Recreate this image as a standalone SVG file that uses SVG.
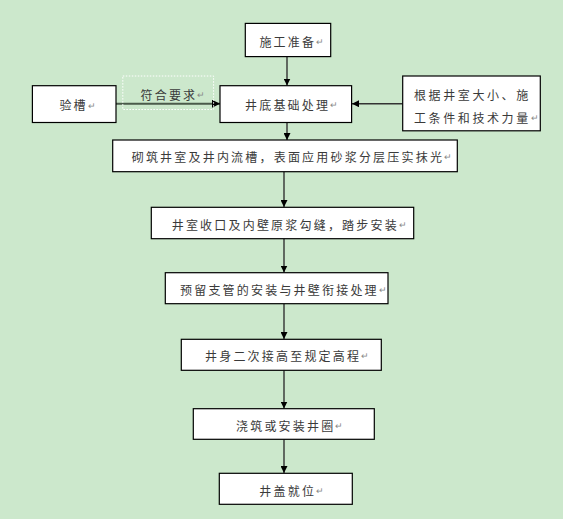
<svg xmlns="http://www.w3.org/2000/svg" width="563" height="519" viewBox="0 0 563 519">
<defs>
<style>
.box{fill:#fff;stroke:#000;stroke-width:1.2}
.t{font-family:"Noto Sans CJK SC","Noto Sans CJK JP",sans-serif;font-size:12px;fill:#3a3a3a;letter-spacing:2.2px;dominant-baseline:central}
.r{font-size:9px;fill:#888;letter-spacing:0}
.ln{stroke:#333;stroke-width:1.4;fill:none}
</style>
<marker id="ah" viewBox="0 0 10 10" refX="10" refY="5" markerWidth="7" markerHeight="7" markerUnits="userSpaceOnUse" orient="auto"><path d="M0,0L10,5L0,10z" fill="#000"/></marker>
<marker id="ah2" viewBox="0 0 10 10" refX="10" refY="5" markerWidth="4" markerHeight="4" markerUnits="strokeWidth" orient="auto"><path d="M0,0L10,5L0,10z" fill="#000"/></marker>
</defs>
<rect width="563" height="519" fill="#cce8cc"/>
<g id="connectors">
<line class="ln" x1="287" y1="57" x2="287" y2="85.5" marker-end="url(#ah)"/>
<line x1="116" y1="103.7" x2="220" y2="103.7" stroke="#4a5a4a" stroke-width="2" marker-end="url(#ah2)"/>
<line class="ln" x1="402.7" y1="103.7" x2="352" y2="103.7" marker-end="url(#ah)"/>
<line class="ln" x1="287" y1="122.5" x2="287" y2="140" marker-end="url(#ah)"/>
<line class="ln" x1="284" y1="171.7" x2="284" y2="207" marker-end="url(#ah)"/>
<line class="ln" x1="284" y1="238.7" x2="284" y2="272.5" marker-end="url(#ah)"/>
<line class="ln" x1="284" y1="303.7" x2="284" y2="339" marker-end="url(#ah)"/>
<line class="ln" x1="284" y1="370.3" x2="284" y2="408.5" marker-end="url(#ah)"/>
<line class="ln" x1="284" y1="439.3" x2="284" y2="473" marker-end="url(#ah)"/>
</g>
<g id="label-fuhe">
<rect x="122.8" y="76" width="90.8" height="33.5" fill="none" stroke="#fff" stroke-width="1" stroke-dasharray="1.5,1.5"/>
<text class="t" x="140.5" y="94">符合要求<tspan class="r">↵</tspan></text>
</g>
<g id="n1"><rect class="box" x="245.3" y="23.4" width="85.4" height="33.2"/><text class="t" x="259.4" y="41.4">施工准备<tspan class="r">↵</tspan></text></g>
<g id="n2"><rect class="box" x="32.4" y="85.7" width="83.6" height="36.8"/><text class="t" x="59.4" y="104.5">验槽<tspan class="r">↵</tspan></text></g>
<g id="n3"><rect class="box" x="220" y="85.7" width="131.6" height="36.8"/><text class="t" x="245" y="104">井底基础处理<tspan class="r">↵</tspan></text></g>
<g id="n4"><rect class="box" x="402.7" y="76" width="137.6" height="54.8"/><text class="t" x="414" y="94.4" style="letter-spacing:2.6px">根据井室大小、施</text><text class="t" x="414" y="117" style="letter-spacing:2.6px">工条件和技术力量<tspan class="r">↵</tspan></text></g>
<g id="n5"><rect class="box" x="112.7" y="140" width="344.6" height="31.7"/><text class="t" x="131.7" y="156">砌筑井室及井内流槽，表面应用砂浆分层压实抹光<tspan class="r">↵</tspan></text></g>
<g id="n6"><rect class="box" x="151.3" y="207.3" width="262.4" height="31.4"/><text class="t" x="171.7" y="224">井室收口及内壁原浆勾缝，踏步安装<tspan class="r">↵</tspan></text></g>
<g id="n7"><rect class="box" x="165.3" y="272.7" width="222.7" height="31"/><text class="t" x="180" y="289.3">预留支管的安装与井壁衔接处理<tspan class="r">↵</tspan></text></g>
<g id="n8"><rect class="box" x="181.3" y="339.3" width="200" height="31"/><text class="t" x="205" y="355">井身二次接高至规定高程<tspan class="r">↵</tspan></text></g>
<g id="n9"><rect class="box" x="193.3" y="408.7" width="181" height="30.6"/><text class="t" x="236" y="425">浇筑或安装井圈<tspan class="r">↵</tspan></text></g>
<g id="n10"><rect class="box" x="219.3" y="473.3" width="133" height="31"/><text class="t" x="259.3" y="490">井盖就位<tspan class="r">↵</tspan></text></g>
</svg>
